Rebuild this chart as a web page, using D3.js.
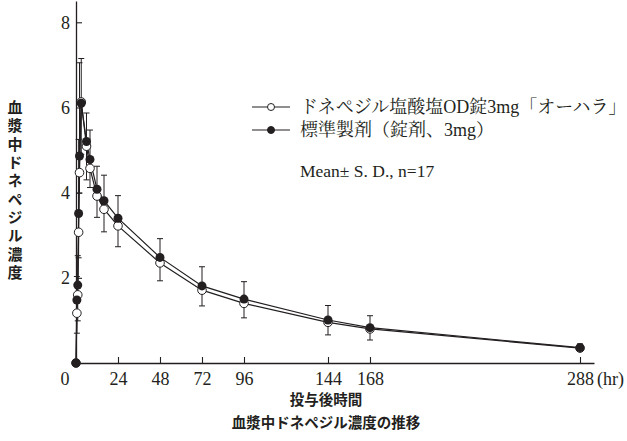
<!DOCTYPE html>
<html>
<head>
<meta charset="utf-8">
<script src="https://cdn.jsdelivr.net/npm/d3@7"></script>
<style>
  body { margin: 0; background: #fff; }
  svg { display: block; }
</style>
</head>
<body>
<svg width="627" height="441"></svg>
<script>
// Sampling times (hr)
const times = [0, 0.5, 1, 1.5, 2, 3, 6, 8, 12, 16, 24, 48, 72, 96, 144, 168, 288];
// ドネペジル塩酸塩OD錠3mg「オーハラ」 (open), mean and lower SD end
const testMean = [0, 1.17, 1.60, 3.07, 4.47, 6.13, 5.09, 4.57, 3.92, 3.61, 3.22, 2.35, 1.71, 1.40, 0.955, 0.80, 0.35];
const testLow  = [0, 0.70, 0.99, 2.47, 3.99, 4.90, 4.30, 4.12, 3.42, 3.08, 2.73, 1.93, 1.34, 1.06, 0.66, 0.54, 0.27];
// 標準製剤（錠剤、3mg） (filled), mean and upper SD end
const refMean = [0, 1.48, 1.83, 3.51, 4.86, 6.10, 5.20, 4.78, 4.08, 3.81, 3.40, 2.48, 1.81, 1.50, 1.01, 0.83, 0.36];
const refHigh = [0, 2.03, 2.52, 5.25, 7.05, 7.15, 5.87, 5.47, 4.62, 4.41, 3.93, 2.92, 2.26, 1.91, 1.35, 1.11, 0.45];

const xTicks = [24, 48, 72, 96, 144, 168, 288];
const yTicks = [2, 4, 6, 8];
const legendLabels = ["ドネペジル塩酸塩OD錠3mg「オーハラ」", "標準製剤（錠剤、3mg）"];

const serif = "'Liberation Serif', 'Noto Serif CJK JP', 'Noto Sans CJK JP', serif";
const gothic = "'Noto Sans CJK JP', sans-serif";
const ink = "#231f20";

const svg = d3.select("svg");

const x = d3.scaleLinear().domain([0, 296]).range([76, 594]);
const y = d3.scaleLinear().domain([0, 8.5]).range([363, 1]);

// Axes
const xAxis = svg.append("g")
  .attr("transform", `translate(0,${y(0)})`)
  .call(d3.axisBottom(x).tickValues(xTicks).tickSizeInner(-6).tickSizeOuter(0).tickPadding(9));
const yAxis = svg.append("g")
  .attr("transform", `translate(${x(0)},0)`)
  .call(d3.axisLeft(y).tickValues(yTicks).tickSizeInner(-6).tickSizeOuter(0).tickPadding(6));

[xAxis, yAxis].forEach(g => {
  g.select(".domain").attr("stroke", ink).attr("stroke-width", 1.3);
  g.selectAll(".tick line").attr("stroke", ink).attr("stroke-width", 1.1);
  g.selectAll(".tick text").attr("fill", ink).style("font-family", serif).style("font-size", "18px");
});

// origin label and unit
svg.append("text")
  .attr("x", x(0) - 11).attr("y", y(0) + 22)
  .attr("text-anchor", "middle")
  .style("font-family", serif).style("font-size", "18px").attr("fill", ink)
  .text("0");
svg.append("text")
  .attr("x", x(288) + 17).attr("y", y(0) + 22)
  .style("font-family", serif).style("font-size", "18px").attr("fill", ink)
  .text("(hr)");

// Error bars
function errorBars(means, ends) {
  const g = svg.append("g").attr("stroke", ink).attr("stroke-width", 1);
  times.forEach((t, i) => {
    if (t === 0) return;
    g.append("line").attr("x1", x(t)).attr("x2", x(t)).attr("y1", y(means[i])).attr("y2", y(ends[i]));
    g.append("line").attr("x1", x(t) - 3).attr("x2", x(t) + 3).attr("y1", y(ends[i])).attr("y2", y(ends[i]));
  });
}
errorBars(testMean, testLow);
errorBars(refMean, refHigh);

// Lines
const line = d3.line().x(d => x(d[0])).y(d => y(d[1]));
const testData = times.map((t, i) => [t, testMean[i]]);
const refData = times.map((t, i) => [t, refMean[i]]);

svg.append("path").datum(testData).attr("d", line)
  .attr("fill", "none").attr("stroke", ink).attr("stroke-width", 1.2);
svg.append("path").datum(refData).attr("d", line)
  .attr("fill", "none").attr("stroke", ink).attr("stroke-width", 1.2);

// Markers
svg.append("g").selectAll("circle").data(testData).join("circle")
  .attr("cx", d => x(d[0])).attr("cy", d => y(d[1])).attr("r", 4.3)
  .attr("fill", "#fff").attr("stroke", ink).attr("stroke-width", 1);
svg.append("g").selectAll("circle").data(refData).join("circle")
  .attr("cx", d => x(d[0])).attr("cy", d => y(d[1])).attr("r", 4.5)
  .attr("fill", ink);

// Legend
const legend = svg.append("g").attr("transform", "translate(252,107)");
legendLabels.forEach((lab, i) => {
  const row = legend.append("g").attr("transform", `translate(0,${i * 23})`);
  row.append("line").attr("x1", 0).attr("x2", 38).attr("y1", 0).attr("y2", 0)
    .attr("stroke", ink).attr("stroke-width", 1.1);
  row.append("circle").attr("cx", 19).attr("cy", 0).attr("r", 3.5)
    .attr("fill", i === 0 ? "#fff" : ink).attr("stroke", ink).attr("stroke-width", 1);
  row.append("text").attr("x", 48).attr("y", 6)
    .style("font-family", serif).style("font-size", "18px").attr("fill", ink)
    .text(lab);
});
svg.append("text").attr("x", 300).attr("y", 177)
  .style("font-family", serif).style("font-size", "17.5px").attr("fill", ink)
  .text("Mean± S. D., n=17");

// Axis titles
svg.append("text")
  .attr("x", 15).attr("y", 100)
  .style("writing-mode", "vertical-rl")
  .style("text-orientation", "upright")
  .style("letter-spacing", "3.3px")
  .style("font-family", gothic).style("font-size", "15px").style("font-weight", "bold")
  .attr("fill", ink)
  .text("血漿中ドネペジル濃度");

svg.append("text").attr("x", 326).attr("y", 405)
  .attr("text-anchor", "middle")
  .style("font-family", gothic).style("font-size", "14.5px").style("font-weight", "bold")
  .attr("fill", ink).text("投与後時間");
svg.append("text").attr("x", 326).attr("y", 428)
  .attr("text-anchor", "middle")
  .style("font-family", gothic).style("font-size", "14.5px").style("font-weight", "bold")
  .attr("fill", ink).text("血漿中ドネペジル濃度の推移");
</script>
</body>
</html>
